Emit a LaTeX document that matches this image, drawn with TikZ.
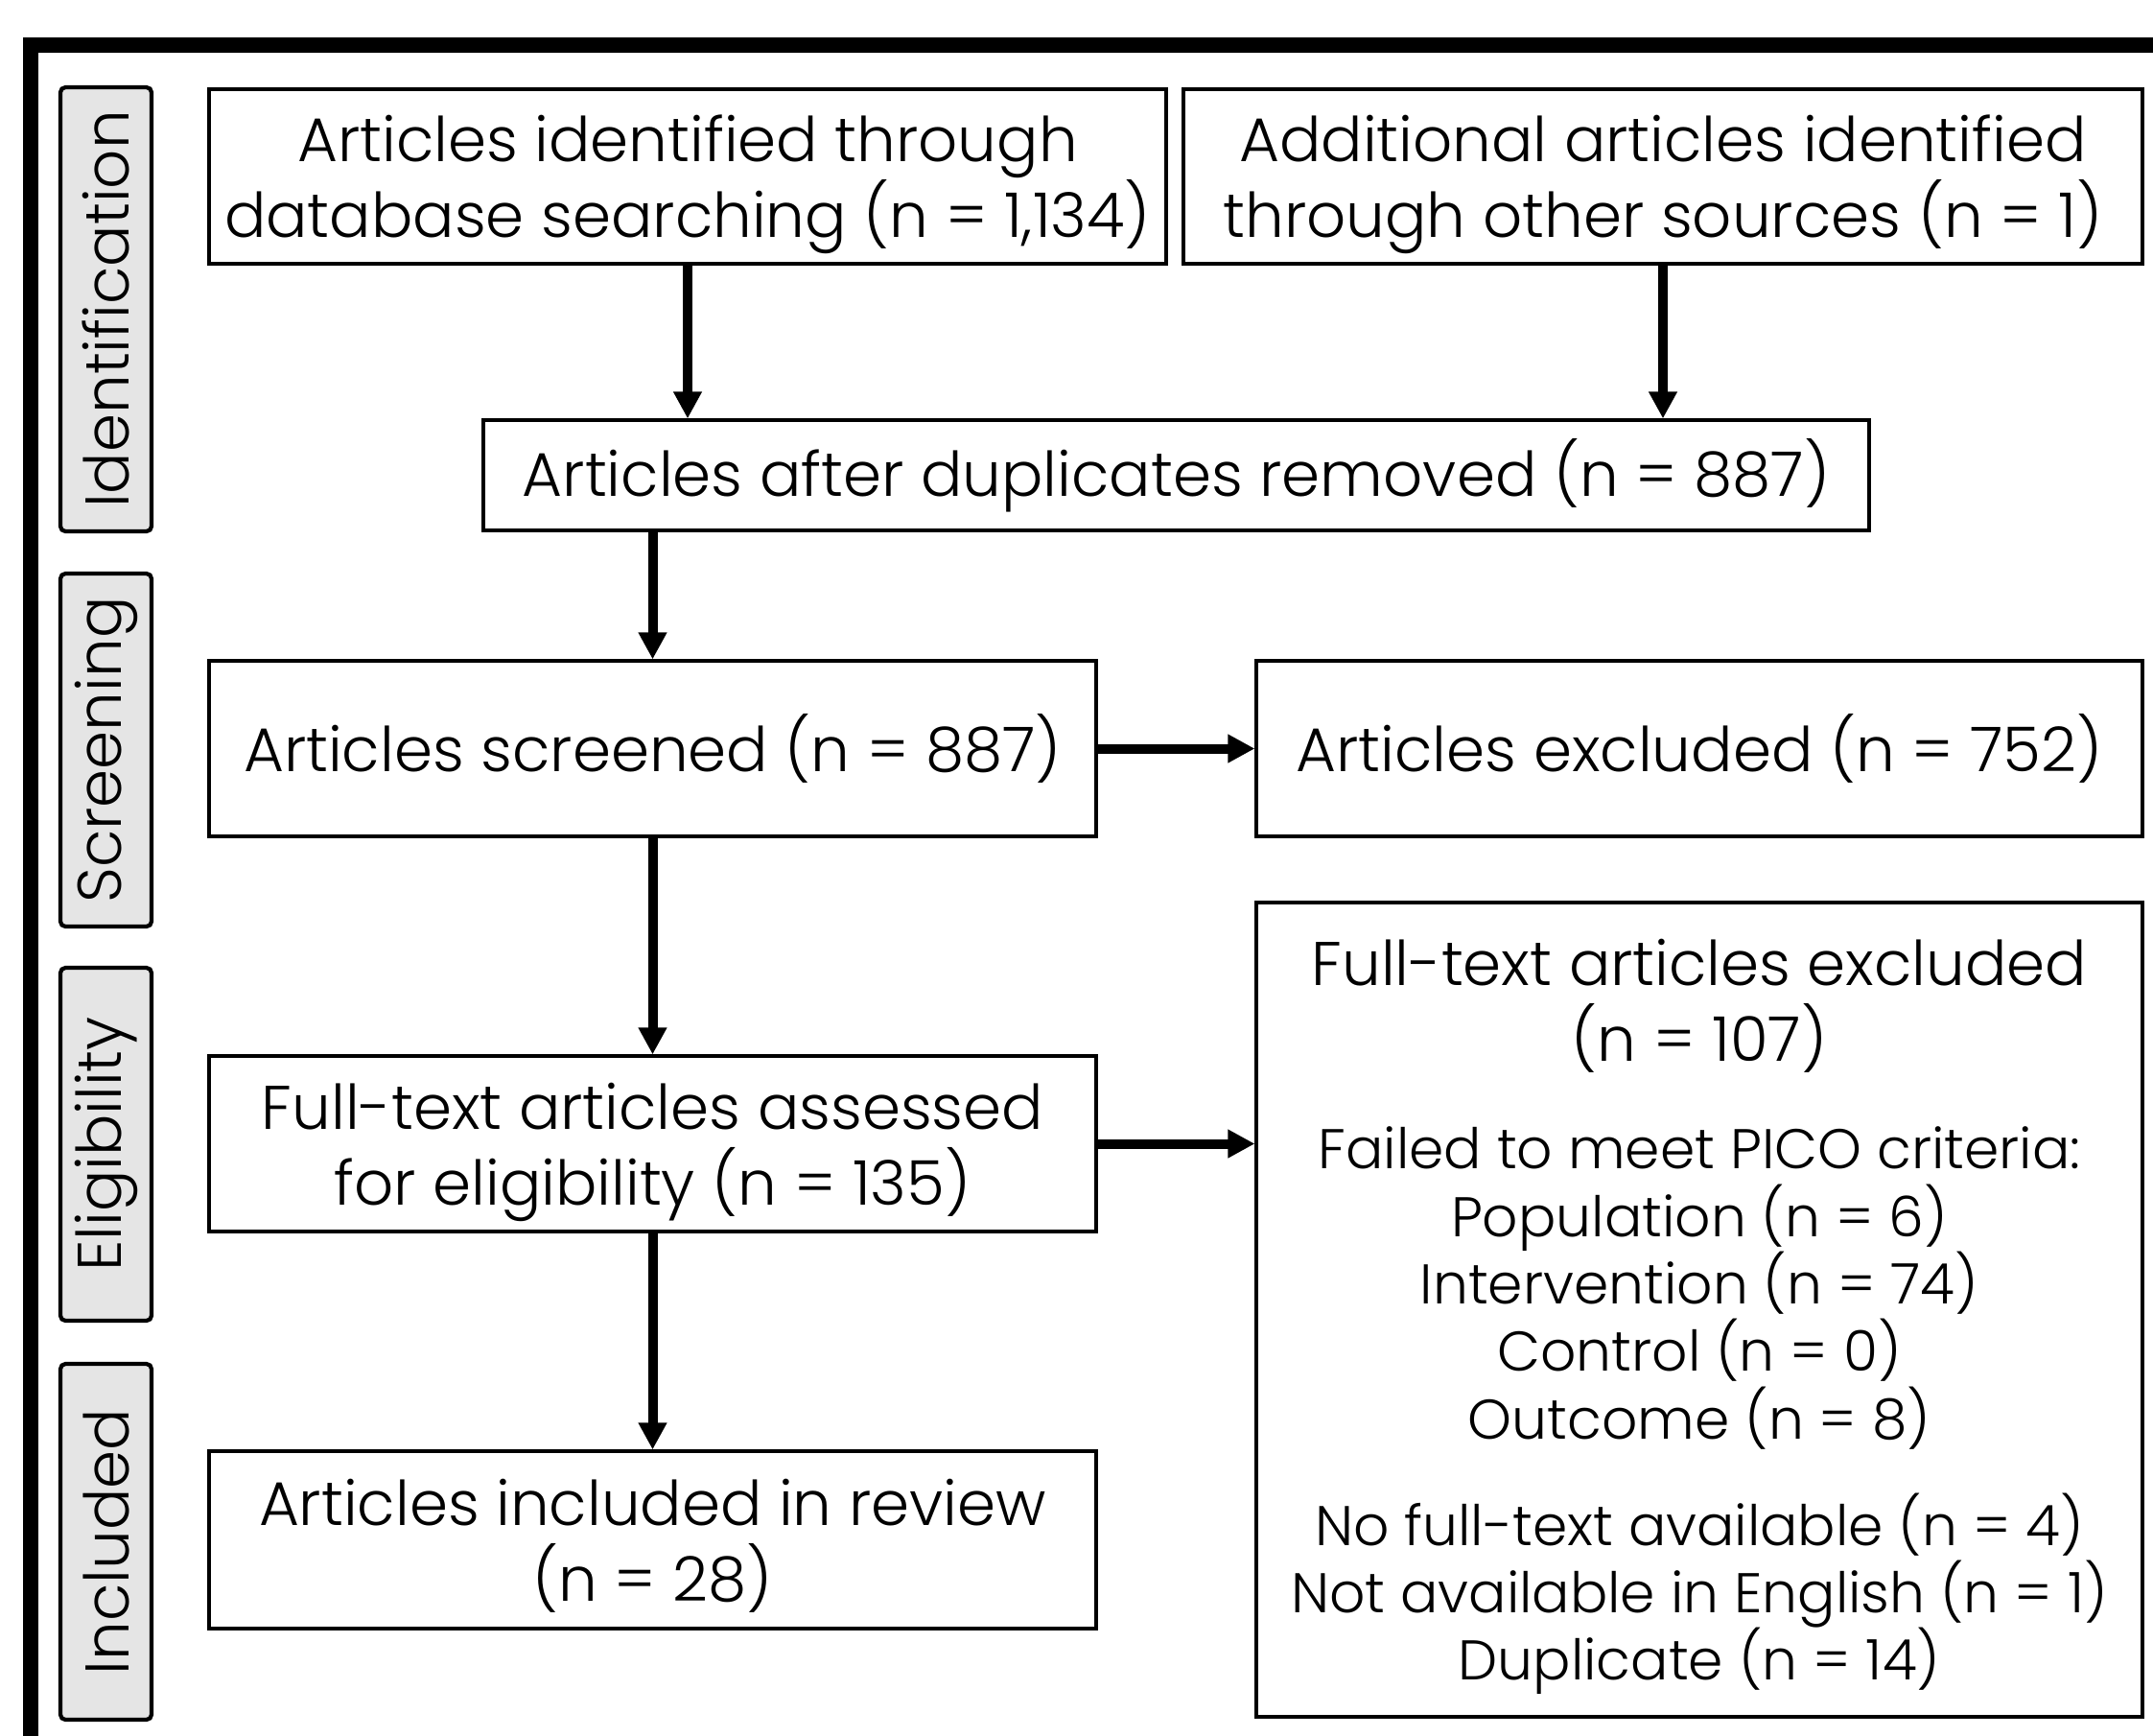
\documentclass[tikz,border=0pt]{standalone}
\usepackage{fontspec}
\setmainfont{Poppins Light}
\usetikzlibrary{arrows.meta}

\newcommand{\boxfont}{\fontsize{18.3pt}{22.5pt}\selectfont\lineskiplimit=-10pt}
\newcommand{\listfont}{\fontsize{16.6pt}{20pt}\selectfont\lineskiplimit=-10pt}

\begin{document}
\begin{tikzpicture}[
  box/.style={draw, line width=0.9pt, align=center, inner sep=0pt, font=\boxfont},
  twoline/.style={text depth=0pt},
  stage/.style={draw, line width=1.2pt, fill=gray!20, rounded corners=1.5pt, rotate=90,
                inner sep=0pt, minimum height=0.95cm, font=\boxfont},
  arr/.style={line width=0.1cm, -{Triangle[length=0.28cm, width=0.28cm]}}
]

\useasboundingbox (0,0) rectangle (22.45,-18.09);
\clip (0,0) rectangle (22.45,-18.09);


% Outer frame
\draw[line width=0.16cm] (0.32,-19) -- (0.32,-0.465) -- (23,-0.465);


% Stage labels
\path
(1.105,-3.225) node[stage, minimum width=4.63cm] (ident) {Identification}
(1.105,-7.82) node[stage, minimum width=3.68cm] (scrn) {Screening}
(1.105,-11.93) node[stage, minimum width=3.68cm] (elig) {Eligibility}
(1.105,-16.075) node[stage, minimum width=3.71cm] (inc) {Included};


% Identification
\path
(7.17,-1.84) node[box, twoline, minimum width=9.98cm, minimum height=1.82cm] (dbase)
  {Articles identified through\\database searching (n = 1,134)}
(17.34,-1.84) node[box, twoline, minimum width=10cm, minimum height=1.82cm] (other)
  {Additional articles identified\\through other sources (n = 1)}
(12.265,-4.955) node[box, minimum width=14.45cm, minimum height=1.15cm] (dedup)
  {Articles after duplicates removed (n = 887)};


% Screening
\path
(6.805,-7.805) node[box, minimum width=9.25cm, minimum height=1.83cm] (screen)
  {Articles screened (n = 887)}
(17.72,-7.805) node[box, minimum width=9.24cm, minimum height=1.83cm] (exclA)
  {Articles excluded (n = 752)};


% Eligibility
\path
(6.805,-11.925) node[box, twoline, minimum width=9.25cm, minimum height=1.83cm] (fulltext)
  {Full-text articles assessed\\for eligibility (n = 135)}
(17.72,-13.655) node[box, twoline, minimum width=9.24cm, minimum height=8.49cm, font=\listfont] (exclB)
  {{\boxfont Full-text articles excluded}\\[2.5pt]
   {\boxfont (n = 107)}\\[11.9pt]
   Failed to meet PICO criteria:\\
   Population (n = 6)\\
   Intervention (n = 74)\\
   Control (n = 0)\\
   Outcome (n = 8)\\[11.6pt]
   No full-text available (n = 4)\\
   Not available in English (n = 1)\\
   Duplicate (n = 14)};


% Included
\path
(6.805,-16.055) node[box, twoline, minimum width=9.25cm, minimum height=1.85cm] (incl)
  {Articles included in review\\(n = 28)};


% Arrows
\draw[arr] (dbase.south) -- (dbase.south |- dedup.north);
\draw[arr] (other.south) -- (other.south |- dedup.north);
\draw[arr] (screen.north |- dedup.south) -- (screen.north);
\draw[arr] (screen.east) -- (exclA.west);
\draw[arr] (screen.south) -- (fulltext.north);
\draw[arr] (fulltext.east) -- (fulltext.east -| exclB.west);
\draw[arr] (fulltext.south) -- (incl.north);

\end{tikzpicture}
\end{document}
